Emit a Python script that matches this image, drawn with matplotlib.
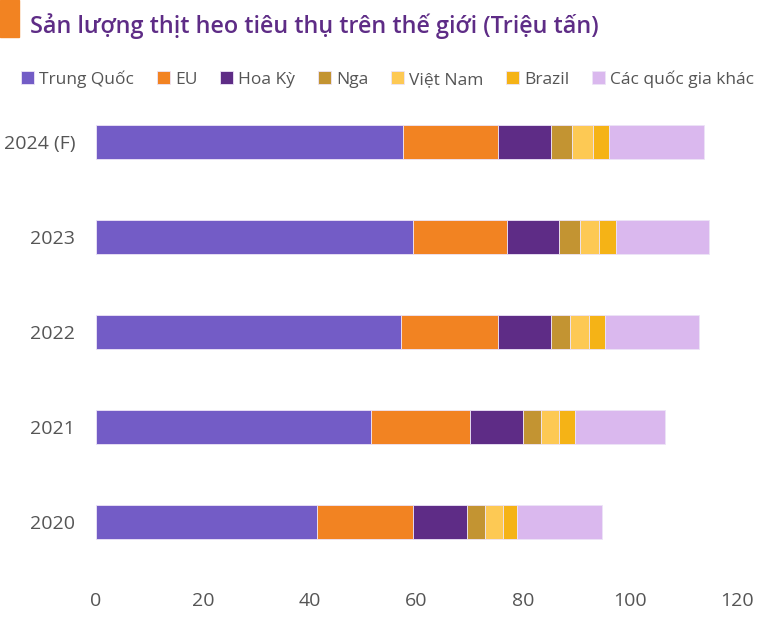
import matplotlib
matplotlib.use('Agg')
import matplotlib.pyplot as plt
from matplotlib.patches import Rectangle

years = ['2024 (F)', '2023', '2022', '2021', '2020']
series = ['Trung Quốc', 'EU', 'Hoa Kỳ', 'Nga', 'Việt Nam', 'Brazil', 'Các quốc gia khác']
trung_quoc = [57.4, 59.4, 57.1, 51.4, 41.3]
eu = [17.9, 17.6, 18.1, 18.6, 18.1]
hoa_ky = [9.9, 9.7, 9.9, 9.9, 10.0]
nga = [3.9, 3.9, 3.7, 3.5, 3.5]
viet_nam = [3.9, 3.6, 3.4, 3.3, 3.2]
brazil = [3.0, 3.1, 3.0, 2.9, 2.8]
khac = [17.9, 17.4, 17.6, 17.0, 15.8]
colors = ['#735CC6', '#F28322', '#5E2C86', '#C39432', '#FDC954', '#F5B316', '#DAB8EE']

plt.rcParams['font.family'] = ['Open Sans', 'DejaVu Sans']

fig = plt.figure(figsize=(7.65, 6.36), dpi=100)
ax = fig.add_axes([96 / 765, 1 - 569.5 / 636, (737 - 96) / 765, 475 / 636])

values = [trung_quoc, eu, hoa_ky, nga, viet_nam, brazil, khac]
ypos = list(range(len(years)))[::-1]
left = [0.0] * len(years)
for name, vals, c in zip(series, values, colors):
    ax.barh(ypos, vals, left=left, height=0.35, color=c, label=name,
            edgecolor='#EDE4F7', linewidth=0.6)
    left = [a + b for a, b in zip(left, vals)]

ax.set_xlim(0, 120)
ax.set_ylim(-0.5, 4.5)
ax.set_xticks(range(0, 121, 20))
ax.set_yticks(ypos)
ax.set_yticklabels(years)
ax.tick_params(length=0, labelsize=14, colors='#555555')
ax.tick_params(axis='y', pad=15)
ax.tick_params(axis='x', pad=16)
for s in ax.spines.values():
    s.set_visible(False)

fig.patches.append(Rectangle((0, 1 - 37 / 636), 19 / 765, 37 / 636,
                             transform=fig.transFigure, color='#F28322'))
fig.text(30 / 765, 1 - 26 / 636, 'Sản lượng thịt heo tiêu thụ trên thế giới (Triệu tấn)',
         fontsize=16.8, color='#5E2C86', va='center', ha='left', fontweight='semibold')

fig.legend(loc='center', bbox_to_anchor=(0.507, 1 - 79 / 636), ncol=7, frameon=False,
           handlelength=0.75, handleheight=0.75, handletextpad=0.3, columnspacing=1.3,
           fontsize=12.5, labelcolor='#555555')

fig.savefig('out.png', dpi=100)
